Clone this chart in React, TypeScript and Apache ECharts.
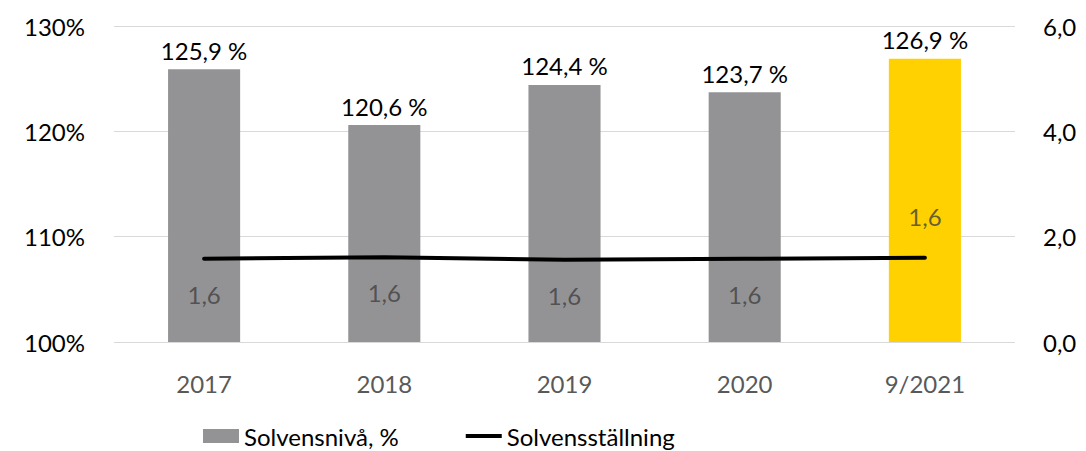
import React, { useEffect, useRef } from "react";
import * as echarts from "echarts";

const categories = ["2017", "2018", "2019", "2020", "9/2021"];
const solvensniva = [125.9, 120.6, 124.4, 123.7, 126.9];
const solvensstallning = [1.58, 1.61, 1.56, 1.58, 1.6];
const lineLabels = ["1,6", "1,6", "1,6", "1,6", "1,6"];
const barColors = ["#939396", "#939396", "#939396", "#939396", "#FFD100"];

const FONT = "Lato, 'Open Sans', sans-serif";
const FS = 24;

export default function App() {
  const ref = useRef<HTMLDivElement>(null);
  useEffect(() => {
    if (!ref.current) return;
    const chart = echarts.init(ref.current, undefined, { renderer: "svg" });
    chart.setOption({
      animation: false,
      textStyle: { fontFamily: FONT },
      grid: { left: 114, right: 71, top: 26, bottom: 109, containLabel: false },
      legend: {
        bottom: -2,
        left: 198,
        itemGap: 67,
        itemWidth: 36,
        itemHeight: 14,
        symbolKeepAspect: true,
        textStyle: { fontFamily: FONT, fontSize: FS, color: "#000" },
        data: [
          { name: "Solvensnivå, %", icon: "rect" },
          { name: "Solvensställning", icon: "path://M0,0H36V4H0Z", itemStyle: { color: "#000" } },
        ],
      },
      xAxis: {
        type: "category",
        data: categories,
        axisLine: { show: false },
        axisTick: { show: false },
        axisLabel: { fontFamily: FONT, fontSize: FS, color: "#595959", margin: 29 },
      },
      yAxis: [
        {
          type: "value",
          min: 100,
          max: 130,
          interval: 10,
          axisLine: { show: false },
          axisTick: { show: false },
          splitLine: { lineStyle: { color: "#d9d9d9", width: 1 } },
          axisLabel: {
            fontFamily: FONT,
            fontSize: FS,
            color: "#000",
            margin: 29,
            formatter: (v: number) => `${v}%`,
          },
        },
        {
          type: "value",
          min: 0,
          max: 6,
          interval: 2,
          position: "right",
          axisLine: { show: false },
          axisTick: { show: false },
          splitLine: { show: false },
          axisLabel: {
            fontFamily: FONT,
            fontSize: FS,
            color: "#000",
            margin: 28,
            formatter: (v: number) => v.toFixed(1).replace(".", ","),
          },
        },
      ],
      series: [
        {
          name: "Solvensnivå, %",
          type: "bar",
          yAxisIndex: 0,
          barWidth: "40%",
          itemStyle: { color: "#939396" },
          data: solvensniva.map((v, i) => ({ value: v, itemStyle: { color: barColors[i] } })),
          label: {
            show: true,
            position: "top",
            distance: 7,
            fontFamily: FONT,
            fontSize: FS,
            color: "#000",
            formatter: (p: any) => `${p.value.toFixed(1).replace(".", ",")} %`,
          },
        },
        {
          name: "Solvensställning",
          type: "line",
          yAxisIndex: 1,
          symbol: "none",
          lineStyle: { color: "#000", width: 4, cap: "round" },
          itemStyle: { color: "#000" },
          data: solvensstallning,
        },
        {
          name: "labels",
          type: "scatter",
          yAxisIndex: 1,
          symbolSize: 1,
          itemStyle: { color: "rgba(0,0,0,0)" },
          z: 5,
          data: solvensstallning.map((v, i) => ({
            value: v,
            label: {
              show: true,
              position: i === 4 ? "top" : "bottom",
              distance: i === 4 ? 29 : 23,
              fontFamily: FONT,
              fontSize: FS,
              color: "#404040",
              formatter: () => lineLabels[i],
            },
          })),
        },
      ],
    });
    return () => chart.dispose();
  }, []);
  return (
    <div
      ref={ref}
      style={{ position: "absolute", left: 0, top: 0, width: 1086, height: 451 }}
    />
  );
}
